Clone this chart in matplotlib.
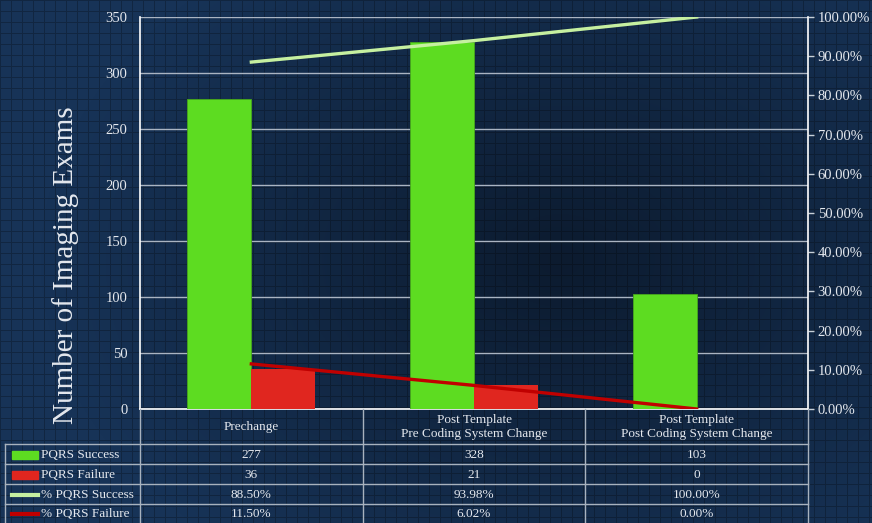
import numpy as np
import matplotlib
matplotlib.use('Agg')
import matplotlib.pyplot as plt
from matplotlib.patches import Rectangle
from matplotlib.lines import Line2D
from matplotlib.ticker import MultipleLocator, FuncFormatter
import matplotlib.transforms as mtransforms

categories = ["Prechange", "Post Template\nPre Coding System Change",
              "Post Template\nPost Coding System Change"]
success = [277, 328, 103]
failure = [36, 21, 0]
pct_success = [88.50, 93.98, 100.00]
pct_failure = [11.50, 6.02, 0.00]
series_names = ["PQRS Success", "PQRS Failure", "% PQRS Success", "% PQRS Failure"]

plt.rcParams['font.family'] = ['Liberation Serif', 'DejaVu Serif']

C_GREEN = '#5ddc21'
C_RED = '#e0261f'
C_LGREEN = '#c6f0a0'
C_DRED = '#c00000'
C_TXT = '#e4e8ee'
C_GRID = '#aab4c2'

W, H = 872, 523
fig = plt.figure(figsize=(W / 100, H / 100), dpi=100)

# background texture (graph-paper look with soft vignette)
yy, xx = np.indices((H, W))
dark = np.array([0x0c, 0x1b, 0x2f]) / 255
light = np.array([0x17, 0x33, 0x57]) / 255
d = np.sqrt(((xx - 560) / 1.0) ** 2 + ((yy - 260) * 1.4) ** 2) / 520
w = np.clip(d, 0, 1)[..., None]
bg = dark * (1 - w) + light * w
gl = (xx % 11 == 0) | (yy % 11 == 0)
bg[gl] *= 0.75
fig.figimage(bg, 0, 0, zorder=-10)

def fy(py):
    return 1 - py / H

ax = fig.add_axes([140 / W, fy(409), 668 / W, 392 / H])
ax.set_zorder(1)
ax.set_facecolor('none')
x = np.arange(len(categories))
bw = 0.287
ax.bar(x - bw / 2, success, bw, color=C_GREEN, edgecolor='#48a81c', lw=0.6, zorder=3)
ax.bar(x + bw / 2, failure, bw, color=C_RED, zorder=3)
ax.set_xlim(-0.5, len(categories) - 0.5)
ax.set_ylim(0, 350)
ax.yaxis.set_major_locator(MultipleLocator(50))
ax.grid(axis='y', color=C_GRID, lw=1, zorder=1)
ax.set_axisbelow(True)
ax.set_xticks([])
ax.tick_params(axis='y', length=0, colors=C_TXT, labelsize=10.5, pad=9)
for s in ['top', 'right']:
    ax.spines[s].set_visible(False)
for s in ['left', 'bottom']:
    ax.spines[s].set_color('white')
    ax.spines[s].set_linewidth(1.2)

fig.text(66 / W, fy(265), "Number of Imaging Exams", rotation=90, ha='center',
         va='center', fontsize=21, color=C_TXT)

ax2 = ax.twinx()
ax2.set_ylim(0, 100)
ax2.yaxis.set_major_locator(MultipleLocator(10))
ax2.yaxis.set_major_formatter(FuncFormatter(lambda v, p: f"{v:.2f}%"))
ax2.tick_params(axis='y', length=4, width=1, color='#c8d0d8', labelcolor=C_TXT,
                labelsize=10.5, pad=3)
for s in ['top', 'left', 'bottom']:
    ax2.spines[s].set_visible(False)
ax2.spines['right'].set_color('white')
ax2.spines['right'].set_linewidth(1.2)
ax2.plot(x, pct_success, color=C_LGREEN, lw=2.4, zorder=4)
ax2.plot(x, pct_failure, color=C_DRED, lw=2.4, zorder=4)

# ---- data table ----
tr = mtransforms.blended_transform_factory(ax.transData, fig.transFigure)
trf = fig.transFigure
lc = '#a8b2be'
edges = np.arange(len(categories) + 1) - 0.5
for e in edges:
    fig.add_artist(Line2D([e, e], [fy(409), fy(523)], transform=tr, color=lc, lw=1))
fig.add_artist(Line2D([5 / W, 5 / W], [fy(444), fy(523)], transform=trf, color=lc, lw=1))
row_lines = [444, 464, 484, 504]
x_left_data = ax.transData.inverted().transform((5, 0))[0]
for r in row_lines:
    fig.add_artist(Line2D([x_left_data, edges[-1]], [fy(r), fy(r)], transform=tr,
                          color=lc, lw=1))

for i, c in enumerate(categories):
    fig.text(x[i], fy(427), c, transform=tr, ha='center', va='center',
             fontsize=9.5, color=C_TXT, linespacing=1.25)

rows = [
    [f"{v}" for v in success],
    [f"{v}" for v in failure],
    [f"{v:.2f}%" for v in pct_success],
    [f"{v:.2f}%" for v in pct_failure],
]
row_centers = [454.5, 474.5, 494.5, 514]
for ri, (vals, yc) in enumerate(zip(rows, row_centers)):
    for i, v in enumerate(vals):
        fig.text(x[i], fy(yc), v, transform=tr, ha='center', va='center',
                 fontsize=9.5, color=C_TXT)
    if ri < 2:
        col = C_GREEN if ri == 0 else C_RED
        fig.add_artist(Rectangle((12 / W, fy(yc + 4)), 26 / W, 8 / H, transform=trf,
                                 color=col))
    else:
        col = C_LGREEN if ri == 2 else C_DRED
        fig.add_artist(Line2D([12 / W, 38 / W], [fy(yc), fy(yc)], transform=trf,
                              color=col, lw=3))
    fig.text(41 / W, fy(yc), series_names[ri], ha='left', va='center',
             fontsize=9.5, color=C_TXT)

fig.savefig('out.png', dpi=100)
